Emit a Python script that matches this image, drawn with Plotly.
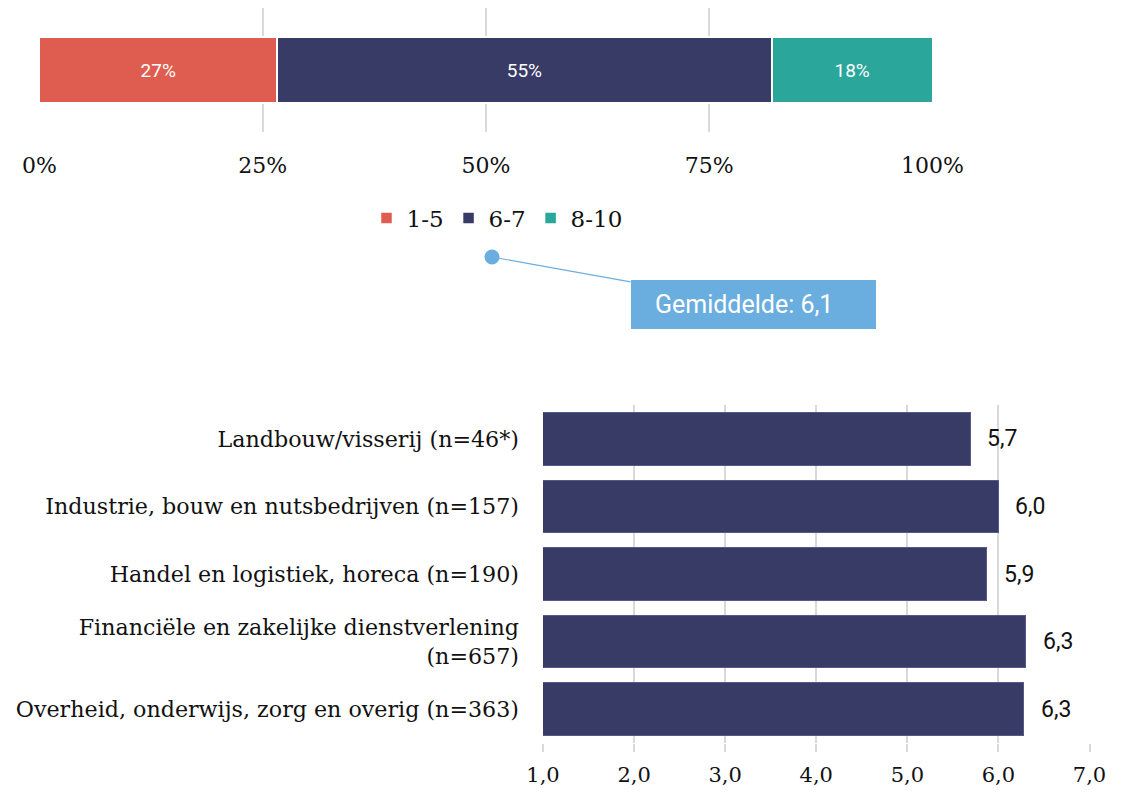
import plotly.graph_objects as go

# Top stacked bar data
dist_names = ["1-5", "6-7", "8-10"]
dist_values = [26.6, 55.4, 18.0]
dist_colors = ["#DE5D50", "#383B66", "#2AA69A"]
pct_ticks = [0, 25, 50, 75, 100]
pct_ticktext = ["0%", "25%", "50%", "75%", "100%"]

mean_label = "Gemiddelde: 6,1"

# Bottom bar data
sectors = [
    "Landbouw/visserij (n=46*)",
    "Industrie, bouw en nutsbedrijven (n=157)",
    "Handel en logistiek, horeca (n=190)",
    "Financiële en zakelijke dienstverlening<br>(n=657)",
    "Overheid, onderwijs, zorg en overig (n=363)",
]
sector_scores = [5.69, 6.0, 5.87, 6.3, 6.28]
score_ticks = [1, 2, 3, 4, 5, 6, 7]
score_ticktext = ["1,0", "2,0", "3,0", "4,0", "5,0", "6,0", "7,0"]

SERIF = "DejaVu Serif"
SANS = "Roboto"

# page body has an 8px margin; figure sized to fit inside the window
OFF = 8
W, H = 1118, 780


def px(x):
    return (x - OFF) / W


def py(y):
    return 1 - (y - OFF) / H


fig = go.Figure()

for name, val, col in zip(dist_names, dist_values, dist_colors):
    fig.add_trace(go.Bar(
        x=[val], y=["all"], name=name, orientation="h",
        marker=dict(color=col, line=dict(color="white", width=1.5)),
        text=[f"{round(val)}%"], textposition="inside", insidetextanchor="middle",
        textfont=dict(family=SANS, size=19, color="white"),
        xaxis="x", yaxis="y", hoverinfo="skip",
    ))

fig.add_trace(go.Bar(
    x=sector_scores, y=sectors, orientation="h", showlegend=False,
    marker=dict(color="#383B66", line=dict(color="#55588A", width=1)),
    xaxis="x2", yaxis="y2", hoverinfo="skip", width=0.78,
))

annotations = []
for s, v in zip(sectors, sector_scores):
    annotations.append(dict(
        x=v, y=s, xref="x2", yref="y2", text=f"{v:.1f}".replace(".", ","),
        showarrow=False, xanchor="left", xshift=15,
        font=dict(family=SANS, size=23, color="#111"),
    ))

dot_x, dot_y = px(492), py(257)
annotations.append(dict(
    x=dot_x, y=dot_y, xref="paper", yref="paper",
    text=mean_label + "&nbsp;&nbsp;&nbsp;", showarrow=True, arrowhead=0, arrowwidth=1.2,
    arrowcolor="#6AAEE0", ax=261, ay=47, axref="pixel", ayref="pixel",
    bgcolor="#6AAEE0", width=245, height=49, borderpad=0, borderwidth=0,
    font=dict(family=SANS, size=25, color="white"), align="center", valign="middle",
))

shapes = [dict(
    type="circle", xref="paper", yref="paper",
    x0=dot_x - 7.5 / W, x1=dot_x + 7.5 / W,
    y0=dot_y - 7.5 / H, y1=dot_y + 7.5 / H,
    fillcolor="#6AAEE0", line=dict(width=0),
)]

fig.update_layout(
    width=W, height=H,
    margin=dict(l=0, r=0, t=0, b=0, autoexpand=False),
    paper_bgcolor="white", plot_bgcolor="white",
    barmode="stack", bargap=0.47,
    showlegend=True,
    legend=dict(orientation="h", x=px(497), xanchor="center", y=py(218),
                yanchor="middle", font=dict(family=SERIF, size=23, color="#111"),
                traceorder="normal", itemwidth=30),
    xaxis=dict(domain=[px(39), px(933)], anchor="y", range=[-0.05, 100.05],
               tickvals=pct_ticks, ticktext=pct_ticktext, showgrid=True, gridcolor="#D9D9D9",
               gridwidth=2, zeroline=False, showline=False, ticks="",
               ticklabelstandoff=18, tickfont=dict(family=SERIF, size=22, color="#111"),
               automargin=False, fixedrange=True),
    yaxis=dict(domain=[py(132), py(8)], anchor="x", showticklabels=False,
               showgrid=False, zeroline=False, automargin=False, fixedrange=True),
    xaxis2=dict(domain=[px(543), px(1090)], anchor="y2", range=[1, 7.005],
                tickvals=score_ticks, ticktext=score_ticktext, showgrid=True, gridcolor="#D9D9D9",
                gridwidth=2, zeroline=False, showline=False, ticks="outside", ticklen=8,
                tickcolor="#D9D9D9", tickwidth=2, ticklabelstandoff=5,
                tickfont=dict(family=SERIF, size=21, color="#111"),
                automargin=False, fixedrange=True),
    yaxis2=dict(domain=[py(743), py(405)], anchor="x2", autorange="reversed",
                showgrid=False, zeroline=False, ticks="", ticklabelstandoff=23,
                tickfont=dict(family=SERIF, size=22.2, color="#111"),
                automargin=False, fixedrange=True),
    annotations=annotations,
    shapes=shapes,
)

fig.write_html("out.html")
